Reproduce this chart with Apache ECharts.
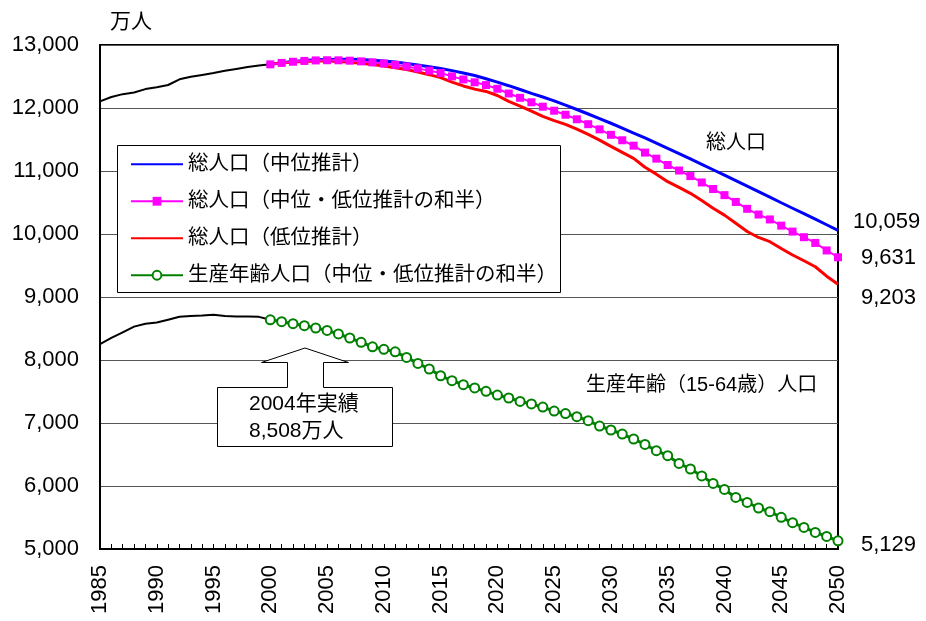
<!DOCTYPE html>
<html>
<head>
<meta charset="utf-8">
<script src="https://cdn.jsdelivr.net/npm/echarts@6/dist/echarts.min.js"></script>
<style>
  html, body { margin: 0; padding: 0; background: #fff; }
  #chart { width: 926px; height: 621px; }
</style>
</head>
<body>
<div id="chart"></div>
<script>
// 年次（1985〜2050年）
const years = [
  '1985','1986','1987','1988','1989','1990','1991','1992','1993','1994',
  '1995','1996','1997','1998','1999','2000','2001','2002','2003','2004',
  '2005','2006','2007','2008','2009','2010','2011','2012','2013','2014',
  '2015','2016','2017','2018','2019','2020','2021','2022','2023','2024',
  '2025','2026','2027','2028','2029','2030','2031','2032','2033','2034',
  '2035','2036','2037','2038','2039','2040','2041','2042','2043','2044',
  '2045','2046','2047','2048','2049','2050'
];

// 実績（1985〜2000年、万人）
const totalActual = [12105, 12175, 12220, 12245, 12300, 12330, 12365, 12455, 12495, 12525,
                     12555, 12590, 12620, 12650, 12675, 12693];
const workingActual = [8251, 8350, 8440, 8530, 8575, 8595, 8640, 8685, 8700, 8705,
                       8717, 8700, 8690, 8690, 8685, 8638];

// 推計（2000〜2050年、万人）
const totalMedium = [12693, 12718, 12738, 12753, 12764, 12771, 12774, 12773, 12768, 12758,
                     12747, 12730, 12708, 12683, 12656, 12627, 12593, 12556, 12515, 12465,
                     12411, 12354, 12294, 12232, 12174, 12114, 12046, 11976, 11905, 11832,
                     11758, 11681, 11603, 11524, 11442, 11360, 11276, 11191, 11106, 11020,
                     10934, 10847, 10760, 10672, 10584, 10496, 10409, 10322, 10235, 10147,
                     10059];
const totalLow = [12693, 12714, 12730, 12740, 12745, 12745, 12740, 12728, 12712, 12690,
                  12665, 12640, 12610, 12572, 12529, 12482, 12410, 12350, 12300, 12263,
                  12199, 12105, 12030, 11950, 11867, 11800, 11740, 11665, 11580, 11490,
                  11390, 11295, 11200, 11060, 10950, 10830, 10740, 10646, 10530, 10408,
                  10300, 10170, 10040, 9945, 9878, 9770, 9667, 9575, 9480, 9330,
                  9203];
const totalMid = [12693, 12716, 12734, 12747, 12755, 12758, 12757, 12751, 12740, 12724,
                  12706, 12685, 12659, 12628, 12593, 12555, 12502, 12453, 12408, 12364,
                  12305, 12230, 12162, 12091, 12021, 11957, 11893, 11821, 11743, 11661,
                  11574, 11488, 11402, 11292, 11196, 11095, 11008, 10919, 10818, 10714,
                  10617, 10509, 10400, 10309, 10231, 10133, 10038, 9949, 9858, 9739,
                  9631];
const workingMid = [8638, 8608, 8576, 8544, 8508, 8470, 8413, 8349, 8280, 8210,
                    8170, 8130, 8041, 7946, 7857, 7750, 7671, 7608, 7556, 7502,
                    7444, 7397, 7343, 7302, 7252, 7190, 7150, 7100, 7037, 6952,
                    6889, 6825, 6746, 6660, 6560, 6481, 6359, 6270, 6159, 6041,
                    5946, 5819, 5740, 5651, 5592, 5502, 5417, 5343, 5263, 5200,
                    5129];

// 目盛ラベル
const yTicks = { min: 5000, max: 13000, step: 1000 };

const FONT = "'Liberation Sans', 'Noto Sans CJK JP', sans-serif";

// 年次軸の長さに合わせて null で埋める
function history(arr) {
  return arr.concat(new Array(years.length - arr.length).fill(null));
}
function projection(arr) {
  return new Array(years.length - arr.length).fill(null).concat(arr);
}
const fmt = v => Number(v).toLocaleString('en-US');

function endLabel(dx, dy) {
  return {
    show: true,
    formatter: p => fmt(p.value),
    fontSize: 22,
    fontFamily: FONT,
    color: '#000',
    offset: [dx, dy]
  };
}

const chart = echarts.init(document.getElementById('chart'), null, { renderer: 'canvas' });

const NAME_MED = '総人口（中位推計）';
const NAME_MID = '総人口（中位・低位推計の和半）';
const NAME_LOW = '総人口（低位推計）';
const NAME_WORK = '生産年齢人口（中位・低位推計の和半）';

// 線のみの凡例（記号なし）
const lineOnly = { color: 'rgba(0,0,0,0)', borderWidth: 0, opacity: 0 };

chart.setOption({
  animation: false,
  backgroundColor: '#fff',
  textStyle: { fontFamily: FONT },
  grid: {
    left: 100, right: 88, top: 45, bottom: 72,
    show: true, borderColor: '#000', borderWidth: 2, backgroundColor: 'transparent'
  },
  legend: {
    data: [
      { name: NAME_MED, itemStyle: lineOnly },
      { name: NAME_MID },
      { name: NAME_LOW, itemStyle: lineOnly },
      { name: NAME_WORK }
    ],
    orient: 'vertical',
    left: 130, top: 154,
    padding: 0,
    itemWidth: 52, itemHeight: 11, itemGap: 16.5,
    selectedMode: false,
    z: 20,
    textStyle: { fontSize: 20.5, fontFamily: FONT, color: '#000' }
  },
  xAxis: {
    type: 'category',
    data: years,
    boundaryGap: false,
    axisLine: { lineStyle: { color: '#000', width: 2 } },
    axisTick: { show: true, inside: true, length: 5, interval: 0, lineStyle: { color: '#000', width: 1 } },
    axisLabel: { interval: 4, rotate: 90, fontSize: 22, color: '#000', fontFamily: FONT, margin: 16 },
    splitLine: { show: false }
  },
  yAxis: {
    type: 'value',
    min: yTicks.min, max: yTicks.max, interval: yTicks.step,
    axisLine: { show: true, lineStyle: { color: '#000', width: 2 } },
    axisTick: { show: false },
    axisLabel: { formatter: v => fmt(v), fontSize: 22, color: '#000', fontFamily: FONT, margin: 21 },
    splitLine: { lineStyle: { color: '#555', width: 1 } }
  },
  series: [
    {
      name: '総人口（実績）', type: 'line', data: history(totalActual),
      symbol: 'none', lineStyle: { color: '#000', width: 2 }, itemStyle: { color: '#000' }, z: 3
    },
    {
      name: '生産年齢人口（実績）', type: 'line', data: history(workingActual),
      symbol: 'none', lineStyle: { color: '#000', width: 2 }, itemStyle: { color: '#000' }, z: 3
    },
    {
      name: NAME_MED, type: 'line', data: projection(totalMedium),
      symbol: 'none', color: '#0000ff', lineStyle: { color: '#0000ff', width: 3 },
      endLabel: endLabel(7, -8), z: 4
    },
    {
      name: NAME_LOW, type: 'line', data: projection(totalLow),
      symbol: 'none', color: '#ff0000', lineStyle: { color: '#ff0000', width: 3 },
      endLabel: endLabel(15, 14), z: 4
    },
    {
      name: NAME_MID, type: 'line', data: projection(totalMid),
      symbol: 'rect', symbolSize: 8, showAllSymbol: true, color: '#ff00ff',
      lineStyle: { color: '#ff00ff', width: 2 }, itemStyle: { color: '#ff00ff' },
      endLabel: endLabel(15, 1), z: 5
    },
    {
      name: NAME_WORK, type: 'line', data: projection(workingMid),
      symbol: 'emptyCircle', symbolSize: 9, showAllSymbol: true, color: '#008000',
      lineStyle: { color: '#008000', width: 3 },
      itemStyle: { color: '#008000', borderColor: '#008000', borderWidth: 2 },
      endLabel: endLabel(15, 4), z: 5
    }
  ],
  graphic: [
    {
      type: 'text', x: 110, y: 22, z: 10,
      style: { text: '万人', fontSize: 21, fontFamily: FONT, fill: '#000', align: 'left', verticalAlign: 'middle' }
    },
    {
      type: 'rect', z: 10,
      shape: { x: 117.5, y: 145.5, width: 443, height: 147 },
      style: { fill: '#fff', stroke: '#000', lineWidth: 1 }
    },
    {
      type: 'text', x: 706, y: 143, z: 10,
      style: { text: '総人口', fontSize: 20, fontFamily: FONT, fill: '#000', align: 'left', verticalAlign: 'middle' }
    },
    {
      type: 'text', x: 586, y: 385, z: 10,
      style: { text: '生産年齢（15-64歳）人口', fontSize: 20, fontFamily: FONT, fill: '#000', align: 'left', verticalAlign: 'middle' }
    },
    {
      type: 'polygon', z: 10,
      shape: {
        points: [
          [217.5, 387.5], [287.5, 387.5], [287.5, 362.5], [261.5, 362.5], [305, 348],
          [348.5, 362.5], [323.5, 362.5], [323.5, 387.5], [392.5, 387.5], [392.5, 446.5], [217.5, 446.5]
        ]
      },
      style: { fill: '#fff', stroke: '#000', lineWidth: 1 }
    },
    {
      type: 'text', x: 249, y: 404, z: 11,
      style: { text: '2004年実績', fontSize: 21, fontFamily: FONT, fill: '#000', align: 'left', verticalAlign: 'middle' }
    },
    {
      type: 'text', x: 249, y: 431, z: 11,
      style: { text: fmt(workingMid[4]) + '万人', fontSize: 21, fontFamily: FONT, fill: '#000', align: 'left', verticalAlign: 'middle' }
    }
  ]
});
</script>
</body>
</html>
